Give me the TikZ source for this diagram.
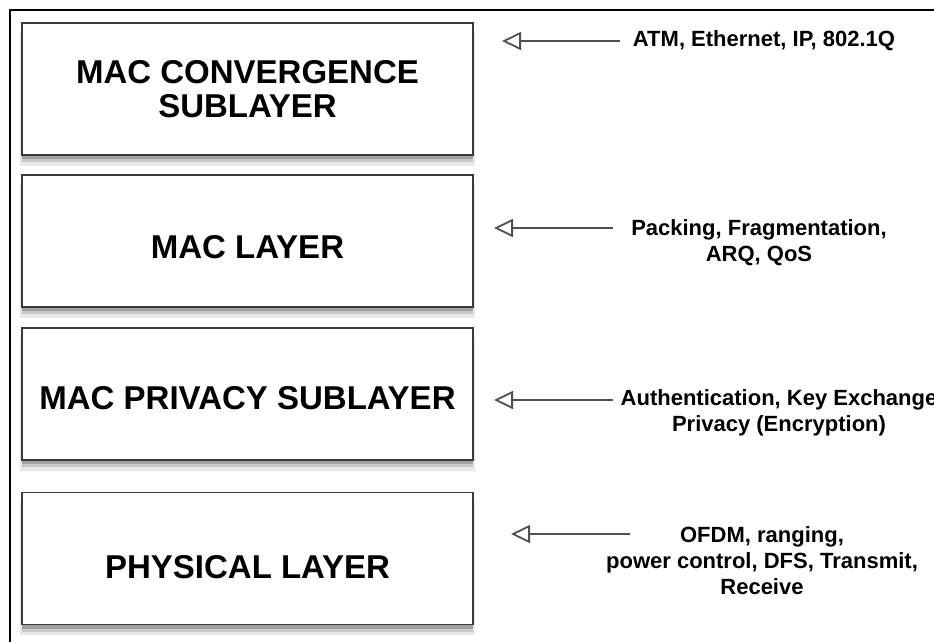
\documentclass[tikz,border=0pt]{standalone}
\usepackage{fontspec}
\setmainfont{Liberation Sans}
\usetikzlibrary{arrows.meta,shadows}

\begin{document}
\begin{tikzpicture}[x=1pt, y=-1pt, >={Triangle[open,length=19pt,width=18pt]}]
  \definecolor{boxline}{HTML}{3A3A3A}
  \definecolor{arrowgrey}{HTML}{505050}
  \tikzset{
    layerbox/.style={draw=boxline, line width=1.6pt, fill=white,
      minimum width=451pt, minimum height=132pt, align=center,
      font=\bfseries\fontsize{33}{34}\selectfont,
      drop shadow={shadow xshift=0pt, shadow yshift=-10pt, opacity=.18, shadow scale=1.01},
      drop shadow={shadow xshift=0pt, shadow yshift=-7pt, opacity=.3},
      drop shadow={shadow xshift=0pt, shadow yshift=-4pt, opacity=.55}},
    notetext/.style={align=center, inner sep=0pt,
      font=\bfseries\fontsize{22}{26}\selectfont},
    feed/.style={->, arrowgrey, line width=1.8pt}
  }

  % ---- page size, and the frame that runs off the right and bottom --------
  \useasboundingbox (0,0) rectangle (934,642);
  \clip (0,0) rectangle (934,642);
  \draw[black, line width=2.5pt] (10,10) rectangle (950,660);

  % ---- the four stacked layers ---------------------------------------------
  % #1 index, #2 centre y, #3 strut that pushes the text down, #4 box text
  \foreach \i/\yy/\lift/\name in {%
    1/89/0/{MAC CONVERGENCE\\SUBLAYER},
    2/241/35/{MAC LAYER},
    3/394/32/{MAC PRIVACY SUBLAYER},
    4/558.5/40.5/{PHYSICAL LAYER}%
  }{
    \node[layerbox] (layer\i) at (247.5,\yy) {\rule{0pt}{\lift pt}\name};
  }

  % ---- what each layer does, with an arrow pointing back at it -------------
  % #1 index, #2/#3 note centre, #4 arrow y, #5 tail x, #6 tip x, #7 note
  \foreach \i/\nx/\ny/\ay/\tx/\hx/\note in {%
    1/764/41/41/620/502/{ATM, Ethernet, IP, 802.1Q},
    2/759/243/228/613/494/{Packing, Fragmentation,\\ARQ, QoS},
    3/779/412.5/400/613/494/{Authentication, Key Exchange\\Privacy (Encryption)},
    4/762/561/534/630/511/{OFDM, ranging,\\power control, DFS, Transmit,\\Receive}%
  }{
    \node[notetext] (note\i) at (\nx,\ny) {\note};
    \coordinate (tail\i) at (\tx,\ay);
    \coordinate (tip\i) at (\hx,\ay);
    \draw[feed] (tail\i) -- (tip\i);
  }
\end{tikzpicture}
\end{document}
